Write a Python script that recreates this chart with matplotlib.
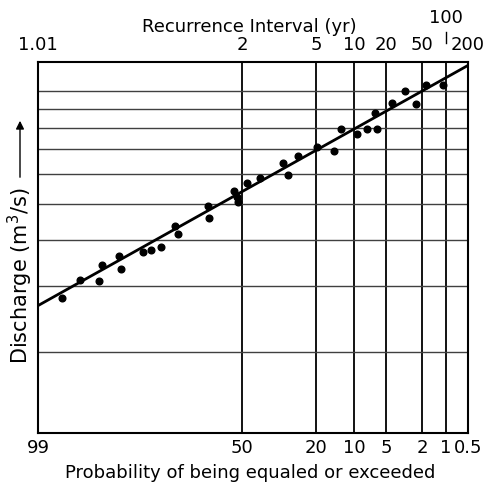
import matplotlib
matplotlib.use("Agg")
import matplotlib.pyplot as plt
import numpy as np
from matplotlib.ticker import NullLocator
from statistics import NormalDist

# annual peak discharges with their exceedance probability (%)
exceed_pct = [98.0, 96.8, 94.9, 94.5, 91.9, 91.6, 87.0, 85.0, 82.2, 77.7, 76.7,
              65.1, 64.7, 53.6, 52.3, 51.8, 47.7, 41.9, 32.0, 30.0, 26.2, 19.6,
              14.7, 13.0, 9.5, 7.7, 6.2, 6.5, 4.4, 3.15, 2.4, 1.8, 1.1]
discharge = [2.79, 3.12, 3.10, 3.41, 3.62, 3.34, 3.71, 3.76, 3.83, 4.36, 4.13,
             4.94, 4.58, 5.42, 5.22, 5.06, 5.69, 5.87, 6.44, 5.98, 6.69, 7.11,
             6.90, 7.91, 7.71, 7.95, 7.95, 8.78, 9.34, 10.0, 9.28, 10.38, 10.38]

# fitted log-normal line, end points
fit_pct = [99, 0.5]
fit_q = [2.66, 11.75]

prob_ticks = [99, 50, 20, 10, 5, 2, 1, 0.5]
prob_labels = ["99", "50", "20", "10", "5", "2", "1", "0.5"]
grid_pct = [50, 20, 10, 5, 2, 1]
return_periods = [1.01, 2, 5, 10, 20, 50, 200]
grid_q = [2, 3, 4, 5, 6, 7, 8, 9, 10]

_nd = NormalDist()
_ppf = np.vectorize(_nd.inv_cdf, otypes=[float])
_cdf = np.vectorize(_nd.cdf, otypes=[float])


def forward(p):
    p = np.clip(np.asarray(p, dtype=float), 1e-4, 100 - 1e-4)
    return _ppf(p / 100.0)


def inverse(z):
    return _cdf(np.asarray(z, dtype=float)) * 100.0


plt.rcParams["font.family"] = "DejaVu Sans"
fs = 13

fig = plt.figure(figsize=(4.92, 4.84), dpi=100)
ax = fig.add_axes([38 / 492, 51 / 484, 430 / 492, 371 / 484])
ax.set_xscale("function", functions=(forward, inverse))
ax.set_yscale("log")
ax.set_xlim(99, 0.5)
ax.set_ylim(1.21, 12.0)

for p in grid_pct:
    ax.axvline(p, color="black", lw=1.3, zorder=1)
for q in grid_q:
    ax.axhline(q, color="#404040", lw=1.0, zorder=1)

ax.plot(fit_pct, fit_q, color="black", lw=2.0, zorder=3)
ax.plot(exceed_pct, discharge, "o", color="black", ms=4.8, zorder=4)

ax.set_yticks([])
ax.yaxis.set_minor_locator(NullLocator())
ax.xaxis.set_minor_locator(NullLocator())
ax.set_xticks(prob_ticks)
ax.set_xticklabels(prob_labels, fontsize=fs)
ax.tick_params(axis="x", length=0, pad=4)
for s in ax.spines.values():
    s.set_linewidth(1.5)

# recurrence interval labels along the top
trans = ax.get_xaxis_transform()
for t in return_periods:
    lab = "1.01" if t == 1.01 else str(t)
    ax.annotate(lab, xy=(100.0 / t, 1.0), xycoords=trans, xytext=(0, 12),
                textcoords="offset points", ha="center", va="center",
                fontsize=fs, annotation_clip=False)
ax.annotate("100", xy=(1.0, 1.0), xycoords=trans, xytext=(0, 32),
            textcoords="offset points", ha="center", va="center",
            fontsize=fs, annotation_clip=False)
ax.plot([1.0, 1.0], [1.05, 1.08], transform=trans, color="black", lw=1.0,
        clip_on=False)

fig.text(249 / 492, 1 - 27 / 484, "Recurrence Interval (yr)", ha="center",
         va="center", fontsize=fs)
fig.text(250 / 492, 1 - 473 / 484, "Probability of being equaled or exceeded",
         ha="center", va="center", fontsize=fs)
fig.text(20 / 492, 1 - 276 / 484, "Discharge (m$^3$/s)", rotation=90,
         ha="center", va="center", fontsize=15)
ax.annotate("", xy=(20, 484 - 118), xycoords="figure pixels",
            xytext=(20, 484 - 180), textcoords="figure pixels",
            arrowprops=dict(arrowstyle="-|>", color="black", lw=1.0,
                            mutation_scale=12))

fig.savefig("out.png", dpi=100)
